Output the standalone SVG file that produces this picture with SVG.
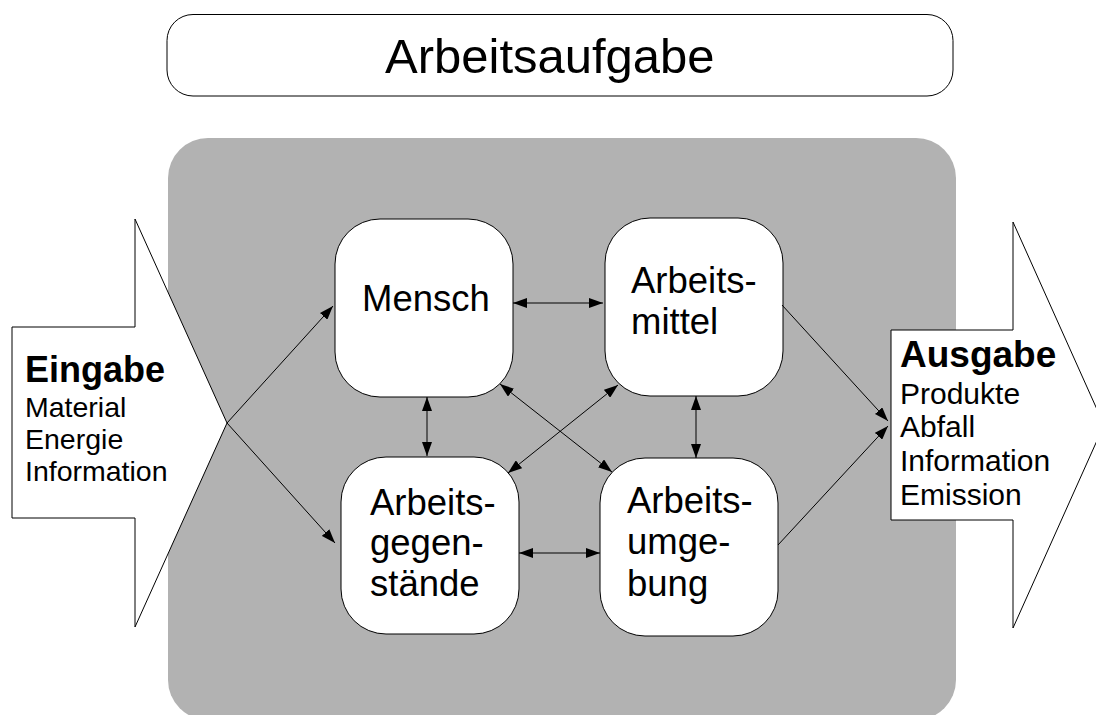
<svg xmlns="http://www.w3.org/2000/svg" width="1096" height="715" viewBox="0 0 1096 715">
<style>
.t{font-family:"Liberation Sans",Arial,sans-serif;fill:#000}
.node{fill:#fff;stroke:#000;stroke-width:1}
.ln{stroke:#000;stroke-width:1;fill:none}
</style>
<defs>
<marker id="ah" viewBox="0 0 14 10" refX="14" refY="5" markerWidth="14" markerHeight="10" markerUnits="userSpaceOnUse" orient="auto-start-reverse">
<path d="M0,0 L14,5 L0,10 z" fill="#000"/>
</marker>
</defs>
<rect width="1096" height="715" fill="#fff"/>
<g id="aufgabe">
<rect x="167" y="14.5" width="786" height="81.5" rx="26" fill="#fff" stroke="#000" stroke-width="1"/>
<text class="t" x="385" y="73" font-size="49">Arbeitsaufgabe</text>
</g>
<g id="system">
<rect x="168" y="138" width="788" height="582" rx="40" fill="#b2b2b2"/>
</g>
<g id="eingabe">
<polygon points="12,327 135,327 135,219 227,423 135,627 135,518 12,518" fill="#fff" stroke="#000" stroke-width="1"/>
<text class="t" x="25" y="382" font-size="36" font-weight="bold">Eingabe</text>
<text class="t" x="25" y="417" font-size="28.5">Material</text>
<text class="t" x="25" y="449" font-size="28.5">Energie</text>
<text class="t" x="25" y="481" font-size="28.5">Information</text>
</g>
<g id="ausgabe">
<polygon points="891,330 1013,330 1013,222 1104,425 1013,628 1013,520 891,520" fill="#fff" stroke="#000" stroke-width="1"/>
<text class="t" x="900" y="367" font-size="37" font-weight="bold">Ausgabe</text>
<text class="t" x="900" y="404" font-size="30">Produkte</text>
<text class="t" x="900" y="437" font-size="30">Abfall</text>
<text class="t" x="900" y="471" font-size="30">Information</text>
<text class="t" x="900" y="505" font-size="30">Emission</text>
</g>
<g id="mensch">
<rect class="node" x="335" y="219" width="178" height="178" rx="45"/>
<text class="t" x="426" y="311" font-size="36.5" text-anchor="middle">Mensch</text>
</g>
<g id="arbeitsmittel">
<rect class="node" x="605" y="218" width="178" height="178" rx="45"/>
<text class="t" x="631" y="293" font-size="36.5">Arbeits-</text>
<text class="t" x="631" y="334" font-size="36.5">mittel</text>
</g>
<g id="arbeitsgegenstaende">
<rect class="node" x="341" y="457" width="178" height="177" rx="45"/>
<text class="t" x="370" y="515" font-size="36.5">Arbeits-</text>
<text class="t" x="370" y="555" font-size="36.5">gegen-</text>
<text class="t" x="370" y="596" font-size="36.5">stände</text>
</g>
<g id="arbeitsumgebung">
<rect class="node" x="600" y="458" width="178" height="178" rx="45"/>
<text class="t" x="627" y="513" font-size="36.5">Arbeits-</text>
<text class="t" x="627" y="554" font-size="36.5">umge-</text>
<text class="t" x="627" y="596" font-size="36.5">bung</text>
</g>
<g id="connectors">
<line class="ln" x1="227" y1="423" x2="333" y2="306" marker-end="url(#ah)"/>
<line class="ln" x1="227" y1="423" x2="335" y2="543" marker-end="url(#ah)"/>
<line class="ln" x1="513" y1="303" x2="603" y2="303" marker-start="url(#ah)" marker-end="url(#ah)"/>
<line class="ln" x1="427" y1="397" x2="427" y2="456" marker-start="url(#ah)" marker-end="url(#ah)"/>
<line class="ln" x1="696" y1="396" x2="696" y2="458" marker-start="url(#ah)" marker-end="url(#ah)"/>
<line class="ln" x1="519" y1="553" x2="600" y2="553" marker-start="url(#ah)" marker-end="url(#ah)"/>
<line class="ln" x1="500" y1="384" x2="612" y2="472" marker-start="url(#ah)" marker-end="url(#ah)"/>
<line class="ln" x1="618" y1="385" x2="508" y2="473" marker-start="url(#ah)" marker-end="url(#ah)"/>
<line class="ln" x1="782" y1="305" x2="888" y2="421" marker-end="url(#ah)"/>
<line class="ln" x1="778" y1="545" x2="888" y2="426" marker-end="url(#ah)"/>
</g>
</svg>
